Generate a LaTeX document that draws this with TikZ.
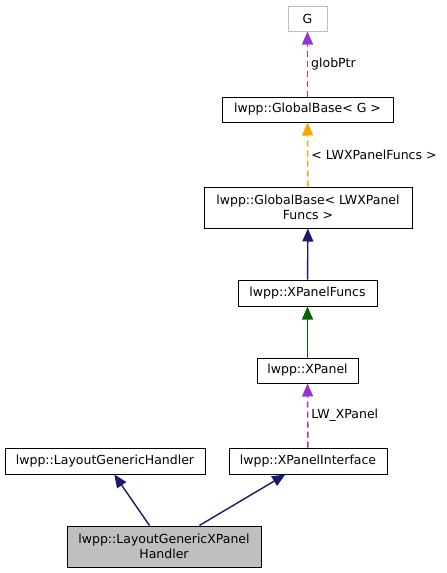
\documentclass[tikz,border=0pt]{standalone}
\usepackage{fontspec}
\setmainfont{DejaVu Sans}
\usepackage{xcolor}
\usepackage{tikz}
\usetikzlibrary{arrows.meta}

\definecolor{grey75}{HTML}{BFBFBF}
\definecolor{darkorchid3}{HTML}{9A32CD}
\definecolor{midnightblue}{HTML}{191970}
\definecolor{darkgreen}{HTML}{006400}
\definecolor{dxorange}{HTML}{FFA500}

\begin{document}
\begin{tikzpicture}[x=1pt, y=1pt,
		>={Triangle[length=13pt,width=11pt]},
		cls/.style = {draw, fill=white, line width=1pt, inner sep=1pt, align=center, minimum height=26pt, font=\fontsize{12.5}{15}\selectfont},
		ext/.style = {cls, draw=grey75},
		cur/.style = {cls, fill=grey75},
		el/.style = {right, inner sep=3pt, text=black, font=\fontsize{12.5}{15}\selectfont},
		inh/.style = {->, line width=1.4pt, color=midnightblue},
		usg/.style = {->, line width=1.4pt, color=darkorchid3, dash pattern=on 6pt off 4pt},
		tpl/.style = {->, line width=1.4pt, color=dxorange, dash pattern=on 6pt off 4pt}
		]
		\useasboundingbox (0,0) rectangle (447,-573);
		
		\node (G)     [ext, minimum width=39pt, minimum height=25pt]  at (307.5,-18.5)  {G};
		\node (gbG)   [cls, minimum width=171pt, minimum height=25pt] at (307.5,-109.5) {lwpp::GlobalBase< G >};
		\node (gbLWX) [cls, minimum width=208pt, minimum height=41pt] at (308,-207.5)   {lwpp::GlobalBase< LWXPanel\\Funcs >};
		\node (xpf)   [cls, minimum width=139pt]                      at (307.5,-293)   {lwpp::XPanelFuncs};
		\node (xp)    [cls, minimum width=101pt, minimum height=25pt] at (307.5,-370.5) {lwpp::XPanel};
		\node (xpi)   [cls, minimum width=158pt]                      at (308,-461)     {lwpp::XPanelInterface};
		\node (lgh)   [cls, minimum width=200pt]                      at (105,-461)     {lwpp::LayoutGenericHandler};
		\node (lgxph) [cur, minimum width=194pt, minimum height=41pt] at (164,-546.5)   {lwpp::LayoutGenericXPanel\\Handler};
		
		\path
		%usage and template links
		(gbG)   edge [usg] node[el] {globPtr}             (G)
		(gbLWX) edge [tpl] node[el] {< LWXPanelFuncs >}   (gbG)
		(xpi)   edge [usg] node[el] {LW\_XPanel}          (xp)
		
		%inheritance
		(xpf)   edge [inh]                                (gbLWX)
		(xp)    edge [inh, color=darkgreen]               (xpf)
		(lgxph) edge [inh]                                (lgh)
		(lgxph) edge [inh]                                (xpi)
		;
		
\end{tikzpicture}
\end{document}
